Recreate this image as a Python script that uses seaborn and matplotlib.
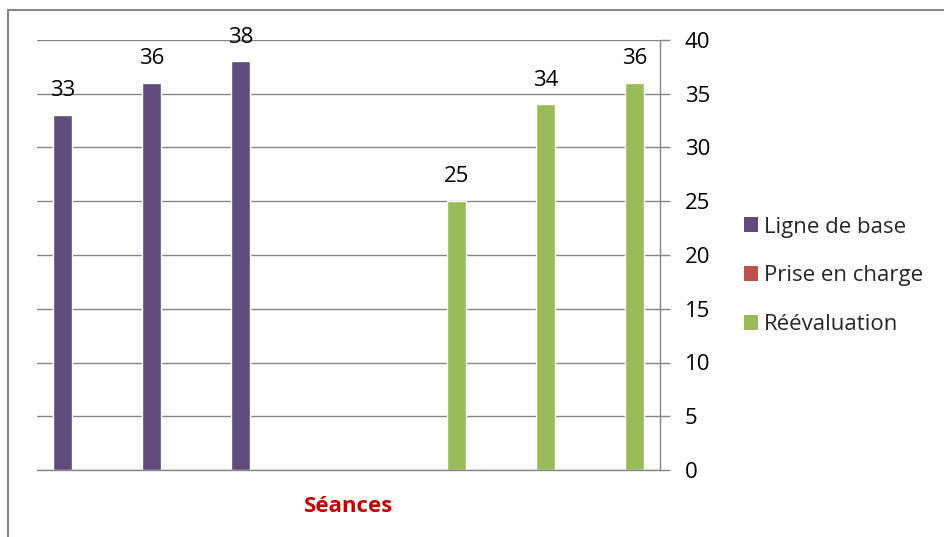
import numpy as np
import pandas as pd
import matplotlib.pyplot as plt
from matplotlib.patches import Patch
from matplotlib.lines import Line2D
import seaborn as sns

# Data
seances = ["1", "2", "3", "4", "5", "6", "7"]
series = ["Ligne de base", "Prise en charge", "Réévaluation"]
ligne_de_base = [33, 36, 38, np.nan, np.nan, np.nan, np.nan]
prise_en_charge = [np.nan] * 7
reevaluation = [np.nan, np.nan, np.nan, np.nan, 25, 34, 36]
y_ticks = [0, 5, 10, 15, 20, 25, 30, 35, 40]

colors = ["#5F4B7C", "#C0504D", "#9BBB59"]

df = pd.DataFrame({
    "Séance": seances * 3,
    "Série": [s for s in series for _ in seances],
    "Valeur": ligne_de_base + prise_en_charge + reevaluation,
}).dropna()

sns.set_style("white")
plt.rcParams["font.family"] = ["Open Sans", "DejaVu Sans"]
fs = 16

fig = plt.figure(figsize=(9.45, 5.37), dpi=100)
ax = fig.add_axes([37 / 945, 1 - 470 / 537, (660 - 37) / 945, (470 - 40) / 537])

sns.barplot(data=df, x="Séance", y="Valeur", hue="Série", order=seances,
            hue_order=series, palette=colors, width=0.645, saturation=1,
            dodge=True, legend=False, ax=ax)

for cont in ax.containers:
    ax.bar_label(cont, fmt="%.0f", padding=10, fontsize=fs, color="black")

ax.set_xlim(-0.5, 6.5)
ax.set_ylim(0, 40)
ax.set_yticks(y_ticks)
ax.yaxis.tick_right()
ax.tick_params(axis="y", labelsize=fs, length=7, width=1, color="#868686",
               pad=11, direction="out", labelcolor="black")
ax.set_xticks(np.arange(-0.5, 7, 1))
ax.set_xticklabels([])
ax.tick_params(axis="x", length=7, width=1, color="#868686", direction="out")
ax.grid(axis="y", color="#868686", linewidth=1)
ax.set_axisbelow(True)
for side in ["left", "top"]:
    ax.spines[side].set_visible(False)
for side in ["right", "bottom"]:
    ax.spines[side].set_color("#868686")
    ax.spines[side].set_linewidth(1)
ax.set_ylabel("")
ax.set_xlabel("Séances", fontsize=fs, fontweight="bold", color="#C00000", labelpad=8)

handles = [Patch(facecolor=c, edgecolor="none") for c in colors]
fig.legend(handles, series, loc="center left", bbox_to_anchor=(735 / 945, 1 - 276 / 537),
           frameon=False, fontsize=fs, handlelength=0.65, handleheight=0.65,
           handletextpad=0.25, labelspacing=1.25, borderaxespad=0)

# chart frame
fig.add_artist(Line2D([8 / 945, 8 / 945], [0, 1 - 10 / 537], color="#868686", lw=1.5))
fig.add_artist(Line2D([8 / 945, 1], [1 - 10 / 537, 1 - 10 / 537], color="#868686", lw=1.5))

plt.savefig("out.png", dpi=100)
